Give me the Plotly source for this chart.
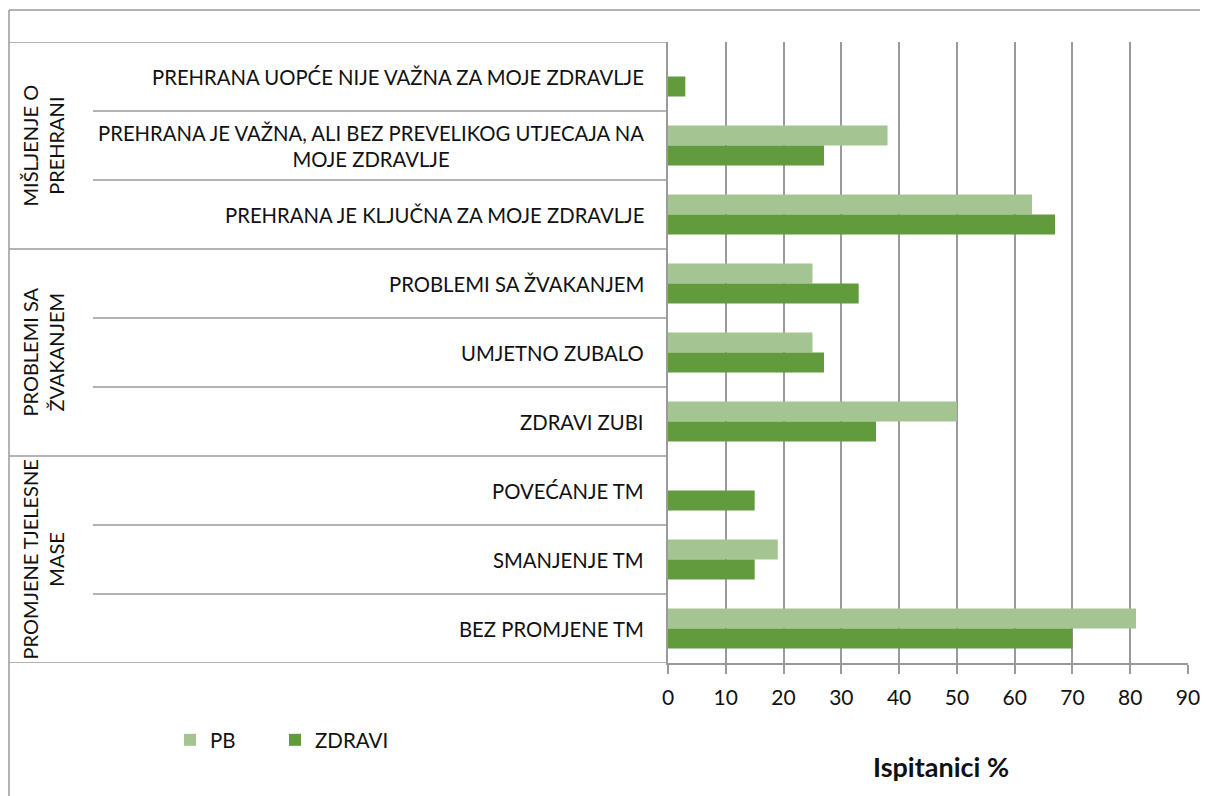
import plotly.graph_objects as go

categories = [
    "PREHRANA UOPĆE NIJE VAŽNA ZA MOJE ZDRAVLJE",
    "PREHRANA JE VAŽNA, ALI BEZ PREVELIKOG UTJECAJA NA<br>MOJE ZDRAVLJE",
    "PREHRANA JE KLJUČNA ZA MOJE ZDRAVLJE",
    "PROBLEMI SA ŽVAKANJEM",
    "UMJETNO ZUBALO",
    "ZDRAVI ZUBI",
    "POVEĆANJE TM",
    "SMANJENJE TM",
    "BEZ PROMJENE TM",
]
pb_values = [0, 38, 63, 25, 25, 50, 0, 19, 81]
zdravi_values = [3, 27, 67, 33, 27, 36, 15, 15, 70]
groups = ["MIŠLJENJE O<br>PREHRANI", "PROBLEMI SA<br>ŽVAKANJEM", "PROMJENE TJELESNE<br>MASE"]
group_sizes = [3, 3, 3]
x_ticks = [0, 10, 20, 30, 40, 50, 60, 70, 80, 90]
x_title = "Ispitanici %"

FONT = "Lato"
TXT = "#111111"
LIGHT = "#A4C591"
DARK = "#629A3E"
GRID = "#9A9A9A"

OFF = 8  # page body margin
W, H = 1200, 788
L, R, T, B = 660, 20, 34, 133
PW = W - L - R
PH = H - T - B


def px_x(s):
    return (s - OFF - L) / PW


def px_y(s):
    return 1 - (s - OFF - T) / PH


idx = list(range(len(categories)))

fig = go.Figure()
fig.add_trace(go.Bar(y=idx, x=pb_values, orientation="h", name="PB", legend="legend",
                     marker=dict(color=LIGHT, line=dict(width=0))))
fig.add_trace(go.Bar(y=idx, x=zdravi_values, orientation="h", name="ZDRAVI", legend="legend2",
                     marker=dict(color=DARK, line=dict(width=0))))

shapes = []
line_style = dict(color=GRID, width=1.5)
boundaries = set()
acc = 0
for s in group_sizes:
    acc += s
    boundaries.add(acc)
for i in range(1, len(categories)):
    x0 = px_x(9) if i in boundaries else px_x(93)
    shapes.append(dict(type="line", xref="paper", yref="y", x0=x0, x1=0,
                       y0=i - 0.5, y1=i - 0.5, line=line_style))
for yv in [-0.5, len(categories) - 0.5]:
    shapes.append(dict(type="line", xref="paper", yref="y", x0=px_x(9), x1=0,
                       y0=yv, y1=yv, line=line_style))
shapes.append(dict(type="line", xref="paper", yref="paper", x0=px_x(9), x1=px_x(9),
                   y0=px_y(10), y1=px_y(805), line=line_style))
shapes.append(dict(type="line", xref="paper", yref="paper", x0=px_x(9), x1=px_x(1215),
                   y0=px_y(10), y1=px_y(10), line=line_style))

annotations = []
for i, c in enumerate(categories):
    annotations.append(dict(xref="paper", yref="y", x=px_x(646), y=i, text=c,
                            showarrow=False, xanchor="right", yanchor="middle",
                            align="center", font=dict(family=FONT, size=20.3, color=TXT)))
start = 0
for g, s in zip(groups, group_sizes):
    center = start + (s - 1) / 2
    annotations.append(dict(xref="paper", yref="y", x=px_x(42), y=center, text=g,
                            showarrow=False, textangle=-90, xanchor="center", yanchor="middle",
                            align="center", font=dict(family=FONT, size=20, color=TXT)))
    start += s
annotations.append(dict(xref="paper", yref="paper", x=px_x(941), y=px_y(766),
                        text="<b>" + x_title + "</b>", showarrow=False,
                        xanchor="center", yanchor="middle",
                        font=dict(family=FONT, size=27, color=TXT)))

legend_common = dict(orientation="h", xanchor="left", yanchor="middle",
                     font=dict(family=FONT, size=20.5, color=TXT),
                     bgcolor="rgba(0,0,0,0)", borderwidth=0)

fig.update_layout(
    width=W, height=H,
    margin=dict(l=L, r=R, t=T, b=B, autoexpand=False),
    paper_bgcolor="white", plot_bgcolor="white",
    barmode="group", bargap=0.42, bargroupgap=0,
    font=dict(family=FONT, size=20, color=TXT),
    shapes=shapes, annotations=annotations,
    showlegend=True,
    legend=dict(x=px_x(170), y=px_y(740), **legend_common),
    legend2=dict(x=px_x(275), y=px_y(740), **legend_common),
    xaxis=dict(range=[0, 90], tickvals=x_ticks, showgrid=True, gridcolor=GRID, gridwidth=1.5,
               zeroline=False, showline=True, linecolor=GRID, linewidth=1.5,
               ticks="outside", ticklen=9, tickcolor=GRID, tickwidth=1.5,
               ticklabelstandoff=6,
               tickfont=dict(family=FONT, size=21, color=TXT),
               fixedrange=True),
    yaxis=dict(range=[len(categories) - 0.5, -0.5], showticklabels=False, showgrid=False,
               zeroline=False, showline=True, linecolor=GRID, linewidth=1.5, fixedrange=True),
)

fig.write_html("out.html")
